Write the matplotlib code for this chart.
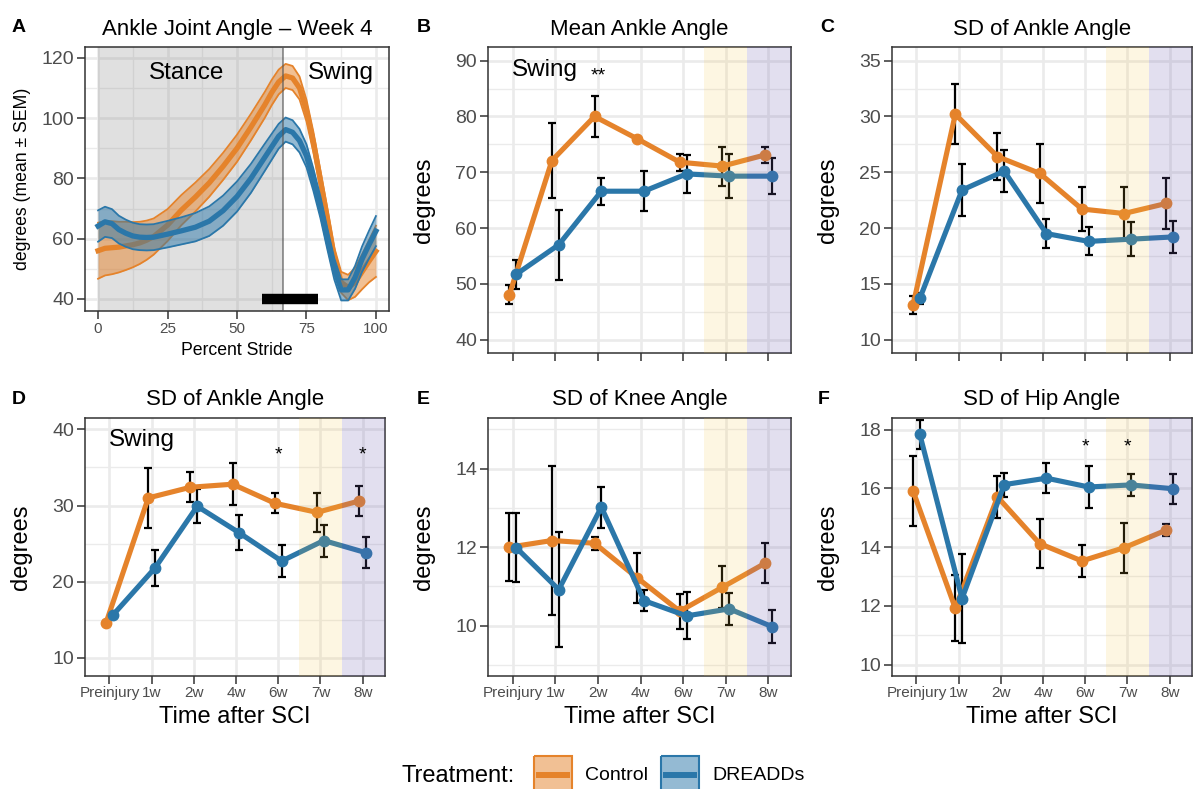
import numpy as np
import matplotlib
matplotlib.use("Agg")
import matplotlib.pyplot as plt
from matplotlib.patches import Rectangle
from matplotlib.ticker import MultipleLocator

plt.rcParams['font.family'] = ['Liberation Sans', 'DejaVu Sans']

W, H = 1194, 789
CONTROL = "#E5832B"
DREADD = "#2B77A9"
GRID = "#EBEBEB"
DARK = "#333333"
TICKTXT = "#4D4D4D"
WEEK7_COL = "#F5C342"
WEEK8_COL = "#7060B0"
DODGE = 0.08

# panel A: ankle angle over the stride, week 4 (mean +- SEM)
stride = [0, 2.5, 5, 7.5, 10, 12.5, 15, 17.5, 20, 25, 30, 35, 40, 45, 50, 55, 60,
          62.5, 65, 67.5, 70, 72.5, 75, 77.5, 80, 82.5, 85, 87.5, 90, 92.5, 95, 97.5, 100]
ctrl_mean = [56.0, 56.8, 57.0, 57.2, 57.6, 58.0, 58.6, 59.5, 60.7, 64.5, 69.5, 73.8, 78.5,
             84.0, 90.0, 97.0, 104.4, 108.5, 112.0, 114.0, 113.3, 110.0, 102.5, 92.0, 79.5,
             67.0, 54.0, 45.5, 43.8, 45.5, 49.0, 52.5, 55.8]
ctrl_sem = [9.3, 9.0, 8.8, 8.4, 8.0, 7.5, 7.0, 6.5, 6.0, 5.3, 5.0, 4.8, 4.6, 4.5, 4.5, 4.4,
            4.3, 4.2, 4.1, 4.0, 4.0, 3.8, 3.6, 3.4, 3.2, 3.0, 3.0, 3.5, 4.2, 4.8, 5.8, 7.0, 8.5]
dre_mean = [64.2, 65.6, 65.0, 63.0, 61.8, 60.9, 60.5, 60.4, 60.5, 61.5, 62.6, 63.8, 65.8,
            69.3, 74.0, 80.0, 87.0, 90.5, 94.0, 96.2, 95.3, 92.5, 87.5, 79.5, 70.5, 60.0,
            50.0, 43.0, 43.0, 47.2, 53.2, 58.0, 62.5]
dre_sem = [5.2, 5.0, 4.8, 4.6, 4.5, 4.4, 4.3, 4.3, 4.3, 4.4, 4.5, 4.7, 4.9, 5.0, 5.0, 4.8,
           4.5, 4.3, 4.1, 4.0, 4.0, 3.9, 3.8, 3.7, 3.6, 3.5, 3.5, 3.5, 3.5, 3.8, 4.2, 4.6, 5.0]
stance_end = 66.5
sig_window = [59, 79]
sig_level = 40

# panels B-F: weekly values (mean, SEM)
weeks = ['Preinjury', '1w', '2w', '4w', '6w', '7w', '8w']

b_ctrl = [48.0, 72.1, 80.0, 76.0, 71.8, 71.1, 73.1]
b_ctrl_sem = [1.7, 6.8, 3.6, 0.4, 1.55, 3.5, 1.4]
b_dre = [51.7, 57.0, 66.6, 66.6, 69.7, 69.3, 69.3]
b_dre_sem = [2.55, 6.3, 2.4, 3.6, 3.35, 3.9, 3.2]

c_ctrl = [13.1, 30.2, 26.4, 24.9, 21.7, 21.3, 22.2]
c_ctrl_sem = [0.8, 2.7, 2.1, 2.65, 1.95, 2.4, 2.3]
c_dre = [13.7, 23.4, 25.1, 19.5, 18.8, 19.0, 19.2]
c_dre_sem = [0.5, 2.3, 1.9, 1.3, 1.25, 1.5, 1.45]

d_ctrl = [14.6, 31.0, 32.4, 32.8, 30.3, 29.1, 30.6]
d_ctrl_sem = [0.2, 3.95, 1.95, 2.75, 1.3, 2.6, 1.95]
d_dre = [15.6, 21.8, 29.9, 26.4, 22.7, 25.4, 23.8]
d_dre_sem = [0.2, 2.4, 2.25, 2.3, 2.1, 2.1, 2.0]

e_ctrl = [12.0, 12.17, 12.1, 11.22, 10.37, 10.98, 11.59]
e_ctrl_sem = [0.87, 1.89, 0.17, 0.63, 0.45, 0.54, 0.51]
e_dre = [11.99, 10.92, 13.02, 10.64, 10.25, 10.43, 9.98]
e_dre_sem = [0.88, 1.46, 0.52, 0.26, 0.6, 0.4, 0.42]

f_ctrl = [15.91, 11.92, 15.71, 14.12, 13.53, 13.98, 14.58]
f_ctrl_sem = [1.2, 1.13, 0.72, 0.83, 0.54, 0.85, 0.2]
f_dre = [17.84, 12.25, 16.13, 16.35, 16.05, 16.12, 15.99]
f_dre_sem = [0.49, 1.53, 0.41, 0.52, 0.72, 0.38, 0.51]


fig = plt.figure(figsize=(W / 100, H / 100), dpi=100)


def px_axes(left, top, right, bottom):
    return fig.add_axes([left / W, 1 - bottom / H, (right - left) / W, (bottom - top) / H])


def style(ax, cat=False):
    ax.set_axisbelow(True)
    ax.grid(True, which='major', color=GRID, lw=1.9)
    ax.yaxis.grid(True, which='minor', color=GRID, lw=1.0)
    if not cat:
        ax.xaxis.grid(True, which='minor', color=GRID, lw=1.0)
    for s in ax.spines.values():
        s.set_color(DARK)
        s.set_linewidth(1.1)
    ax.tick_params(which='major', length=5.5, width=1.1, color=DARK,
                   labelcolor=TICKTXT, labelsize=14, pad=2.5)
    ax.tick_params(which='minor', length=0)


def time_panel(ax, title, cm, cs, dm, ds, ylim, ystep, labels=True, notes=()):
    x = np.arange(len(weeks))
    for mean, sem, col, off in [(cm, cs, CONTROL, -DODGE), (dm, ds, DREADD, DODGE)]:
        ax.errorbar(x + off, mean, yerr=sem, fmt='none', ecolor='black',
                    elinewidth=1.6, capsize=3.2, capthick=1.6, zorder=2)
        ax.plot(x + off, mean, color=col, lw=3.7, marker='o', ms=7.5, zorder=3)
    ax.axvspan(4.5, 5.5, color=WEEK7_COL, alpha=0.15, lw=0, zorder=5)
    ax.axvspan(5.5, 7.0, color=WEEK8_COL, alpha=0.2, lw=0, zorder=5)
    ax.set_xlim(-0.58, 6.53)
    ax.set_ylim(*ylim)
    ax.set_xticks(x)
    ax.yaxis.set_major_locator(MultipleLocator(ystep))
    ax.yaxis.set_minor_locator(MultipleLocator(ystep / 2))
    style(ax, cat=True)
    ax.set_title(title, fontsize=16, pad=9)
    ax.set_ylabel('degrees', fontsize=17, va='center')
    ax.yaxis.set_label_coords(-0.212, 0.5)
    if labels:
        ax.set_xticklabels(weeks)
        ax.tick_params(axis='x', labelsize=11, pad=2)
        ax.set_xlabel('Time after SCI', fontsize=17, va='center')
        ax.xaxis.set_label_coords(0.5, -0.159)
    else:
        ax.tick_params(axis='x', labelbottom=False)
    for txt, xx, yy, size, ha in notes:
        ax.text(xx, yy, txt, fontsize=size, ha=ha, va='center', zorder=6)


# ---- panel A
axA = px_axes(85, 47, 389, 311)
axA.axvspan(0, stance_end, color='grey', alpha=0.245, lw=0, zorder=1.5)
for mean, sem, col in [(ctrl_mean, ctrl_sem, CONTROL), (dre_mean, dre_sem, DREADD)]:
    mean = np.array(mean)
    sem = np.array(sem)
    axA.fill_between(stride, mean - sem, mean + sem, color=col, alpha=0.5, lw=0, zorder=2)
    axA.plot(stride, mean - sem, color=col, lw=1.3, zorder=2)
    axA.plot(stride, mean + sem, color=col, lw=1.3, zorder=2)
    axA.plot(stride, mean, color=col, lw=3.8, zorder=2)
axA.axvline(stance_end, color='#555555', alpha=0.6, lw=1.4, zorder=4)
axA.plot(sig_window, [sig_level, sig_level], color='black', lw=7.5,
         solid_capstyle='butt', zorder=4)
axA.text(32, 115, 'Stance', fontsize=17.5, ha='center', va='center', zorder=5)
axA.text(87.3, 115, 'Swing', fontsize=17.5, ha='center', va='center', zorder=5)
axA.set_xlim(-4.7, 104.7)
axA.set_ylim(36.0, 123.6)
axA.xaxis.set_major_locator(MultipleLocator(25))
axA.xaxis.set_minor_locator(MultipleLocator(12.5))
axA.yaxis.set_major_locator(MultipleLocator(20))
axA.yaxis.set_minor_locator(MultipleLocator(10))
style(axA)
axA.tick_params(axis='x', labelsize=11, pad=2.5)
axA.set_title('Ankle Joint Angle \u2013 Week 4', fontsize=16, pad=9)
axA.set_xlabel('Percent Stride', fontsize=12.7, va='center')
axA.xaxis.set_label_coords(0.5, -0.148)
axA.set_ylabel('degrees (mean \u00b1 SEM)', fontsize=12.7, va='center')
axA.yaxis.set_label_coords(-0.207, 0.5)

# ---- panels B-F
axB = px_axes(488, 47, 791, 353)
time_panel(axB, 'Mean Ankle Angle', b_ctrl, b_ctrl_sem, b_dre, b_dre_sem,
           (37.6, 92.45), 10, labels=False,
           notes=[('Swing', -0.02, 88.3, 17.5, 'left'), ('**', 2, 87.3, 14, 'center')])

axC = px_axes(892, 47, 1192, 353)
time_panel(axC, 'SD of Ankle Angle', c_ctrl, c_ctrl_sem, c_dre, c_dre_sem,
           (8.8, 36.22), 5, labels=False)

axD = px_axes(85, 418, 385, 676)
time_panel(axD, 'SD of Ankle Angle', d_ctrl, d_ctrl_sem, d_dre, d_dre_sem,
           (7.6, 41.5), 10,
           notes=[('Swing', -0.02, 38.6, 17.5, 'left'), ('*', 4, 36.7, 14, 'center'),
                  ('*', 6, 36.7, 14, 'center')])

axE = px_axes(488, 418, 791, 676)
time_panel(axE, 'SD of Knee Angle', e_ctrl, e_ctrl_sem, e_dre, e_dre_sem,
           (8.72, 15.29), 2)

axF = px_axes(892, 418, 1192, 676)
time_panel(axF, 'SD of Hip Angle', f_ctrl, f_ctrl_sem, f_dre, f_dre_sem,
           (9.61, 18.4), 2,
           notes=[('*', 4, 17.4, 14, 'center'), ('*', 5, 17.4, 14, 'center')])

# panel tags
for tag, xp, yp in [('A', 12, 28), ('B', 417, 28), ('C', 820, 28),
                    ('D', 12, 399), ('E', 417, 399), ('F', 818, 399)]:
    fig.text(xp / W, 1 - yp / H, tag, fontsize=14, fontweight='bold', va='center')

# legend along the bottom
leg = fig.add_axes([0, 0, 1, 60 / H])
leg.set_xlim(0, W)
leg.set_ylim(H, H - 60)
leg.axis('off')
leg.text(402, 776, 'Treatment:', fontsize=17, va='center')
for name, col, x0, tx in [('Control', CONTROL, 534, 585), ('DREADDs', DREADD, 661, 712)]:
    leg.add_patch(Rectangle((x0, 756), 38, 40, facecolor=col, alpha=0.5, lw=0))
    leg.add_patch(Rectangle((x0, 756), 38, 40, facecolor='none', edgecolor=col, lw=1.5))
    leg.plot([x0 + 2, x0 + 36], [775, 775], color=col, lw=4.3, solid_capstyle='butt')
    leg.text(tx, 776, name, fontsize=14, va='center')

fig.savefig('out.png', dpi=100)
